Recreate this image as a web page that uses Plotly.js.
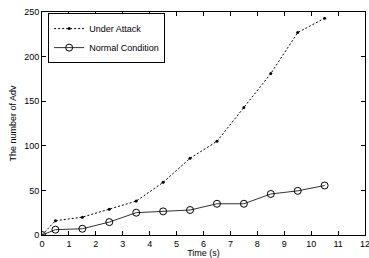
<!DOCTYPE html>
<html><head><meta charset="utf-8">
<script src="https://cdn.plot.ly/plotly-3.0.1.min.js"></script>
<style>html,body{margin:0;padding:0;background:#fff;}#c{width:369px;height:258px;}</style>
</head><body><div id="c"></div>
<script>
const timeX = [0, 0.5, 1.5, 2.5, 3.5, 4.5, 5.5, 6.5, 7.5, 8.5, 9.5, 10.5];
const underAttack = [0, 16, 20, 29, 38, 59, 86, 105, 143, 181, 227, 243];
const normalCond = [0, 6, 7, 14.5, 25, 26.5, 28, 35, 35, 46, 49.5, 55.5];
const seriesNames = ["Under Attack", "Normal Condition"];

const fnt = {family: "Liberation Sans, Arial, sans-serif", size: 9, color: "#000"};
const traces = [
  {x: timeX, y: underAttack, name: seriesNames[0], mode: "lines+markers",
   line: {color: "#000", width: 1, dash: "2px,2px"},
   marker: {color: "#000", size: 3, symbol: "circle"}},
  {x: timeX, y: normalCond, name: seriesNames[1], mode: "lines+markers",
   line: {color: "#333", width: 1},
   marker: {color: "#000", size: 7, symbol: "circle-open", line: {color: "#000", width: 1}}}
];
const axisBase = {showline: true, linecolor: "#000", linewidth: 1, mirror: "ticks",
  ticks: "inside", ticklen: 4, tickcolor: "#000", showgrid: false, zeroline: false,
  tickfont: fnt, ticklabeloverflow: "allow"};
const layout = {
  width: 369, height: 258,
  margin: {l: 42, r: 4, t: 12, b: 23},
  paper_bgcolor: "#fff", plot_bgcolor: "#fff",
  font: fnt,
  showlegend: true,
  legend: {x: 0.019, y: 0.995, xanchor: "left", yanchor: "top",
    bordercolor: "#000", borderwidth: 1, bgcolor: "#fff", font: fnt,
    tracegroupgap: 0, itemwidth: 30},
  xaxis: Object.assign({}, axisBase, {range: [0, 12], dtick: 1, tick0: 0,
    title: {text: "Time (s)", font: fnt, standoff: 1}}),
  yaxis: Object.assign({}, axisBase, {range: [0, 250], dtick: 50, tick0: 0,
    title: {text: "The number of Adv", font: fnt, standoff: 6}})
};
Plotly.newPlot("c", traces, layout, {displayModeBar: false, staticPlot: true});
</script></body></html>
